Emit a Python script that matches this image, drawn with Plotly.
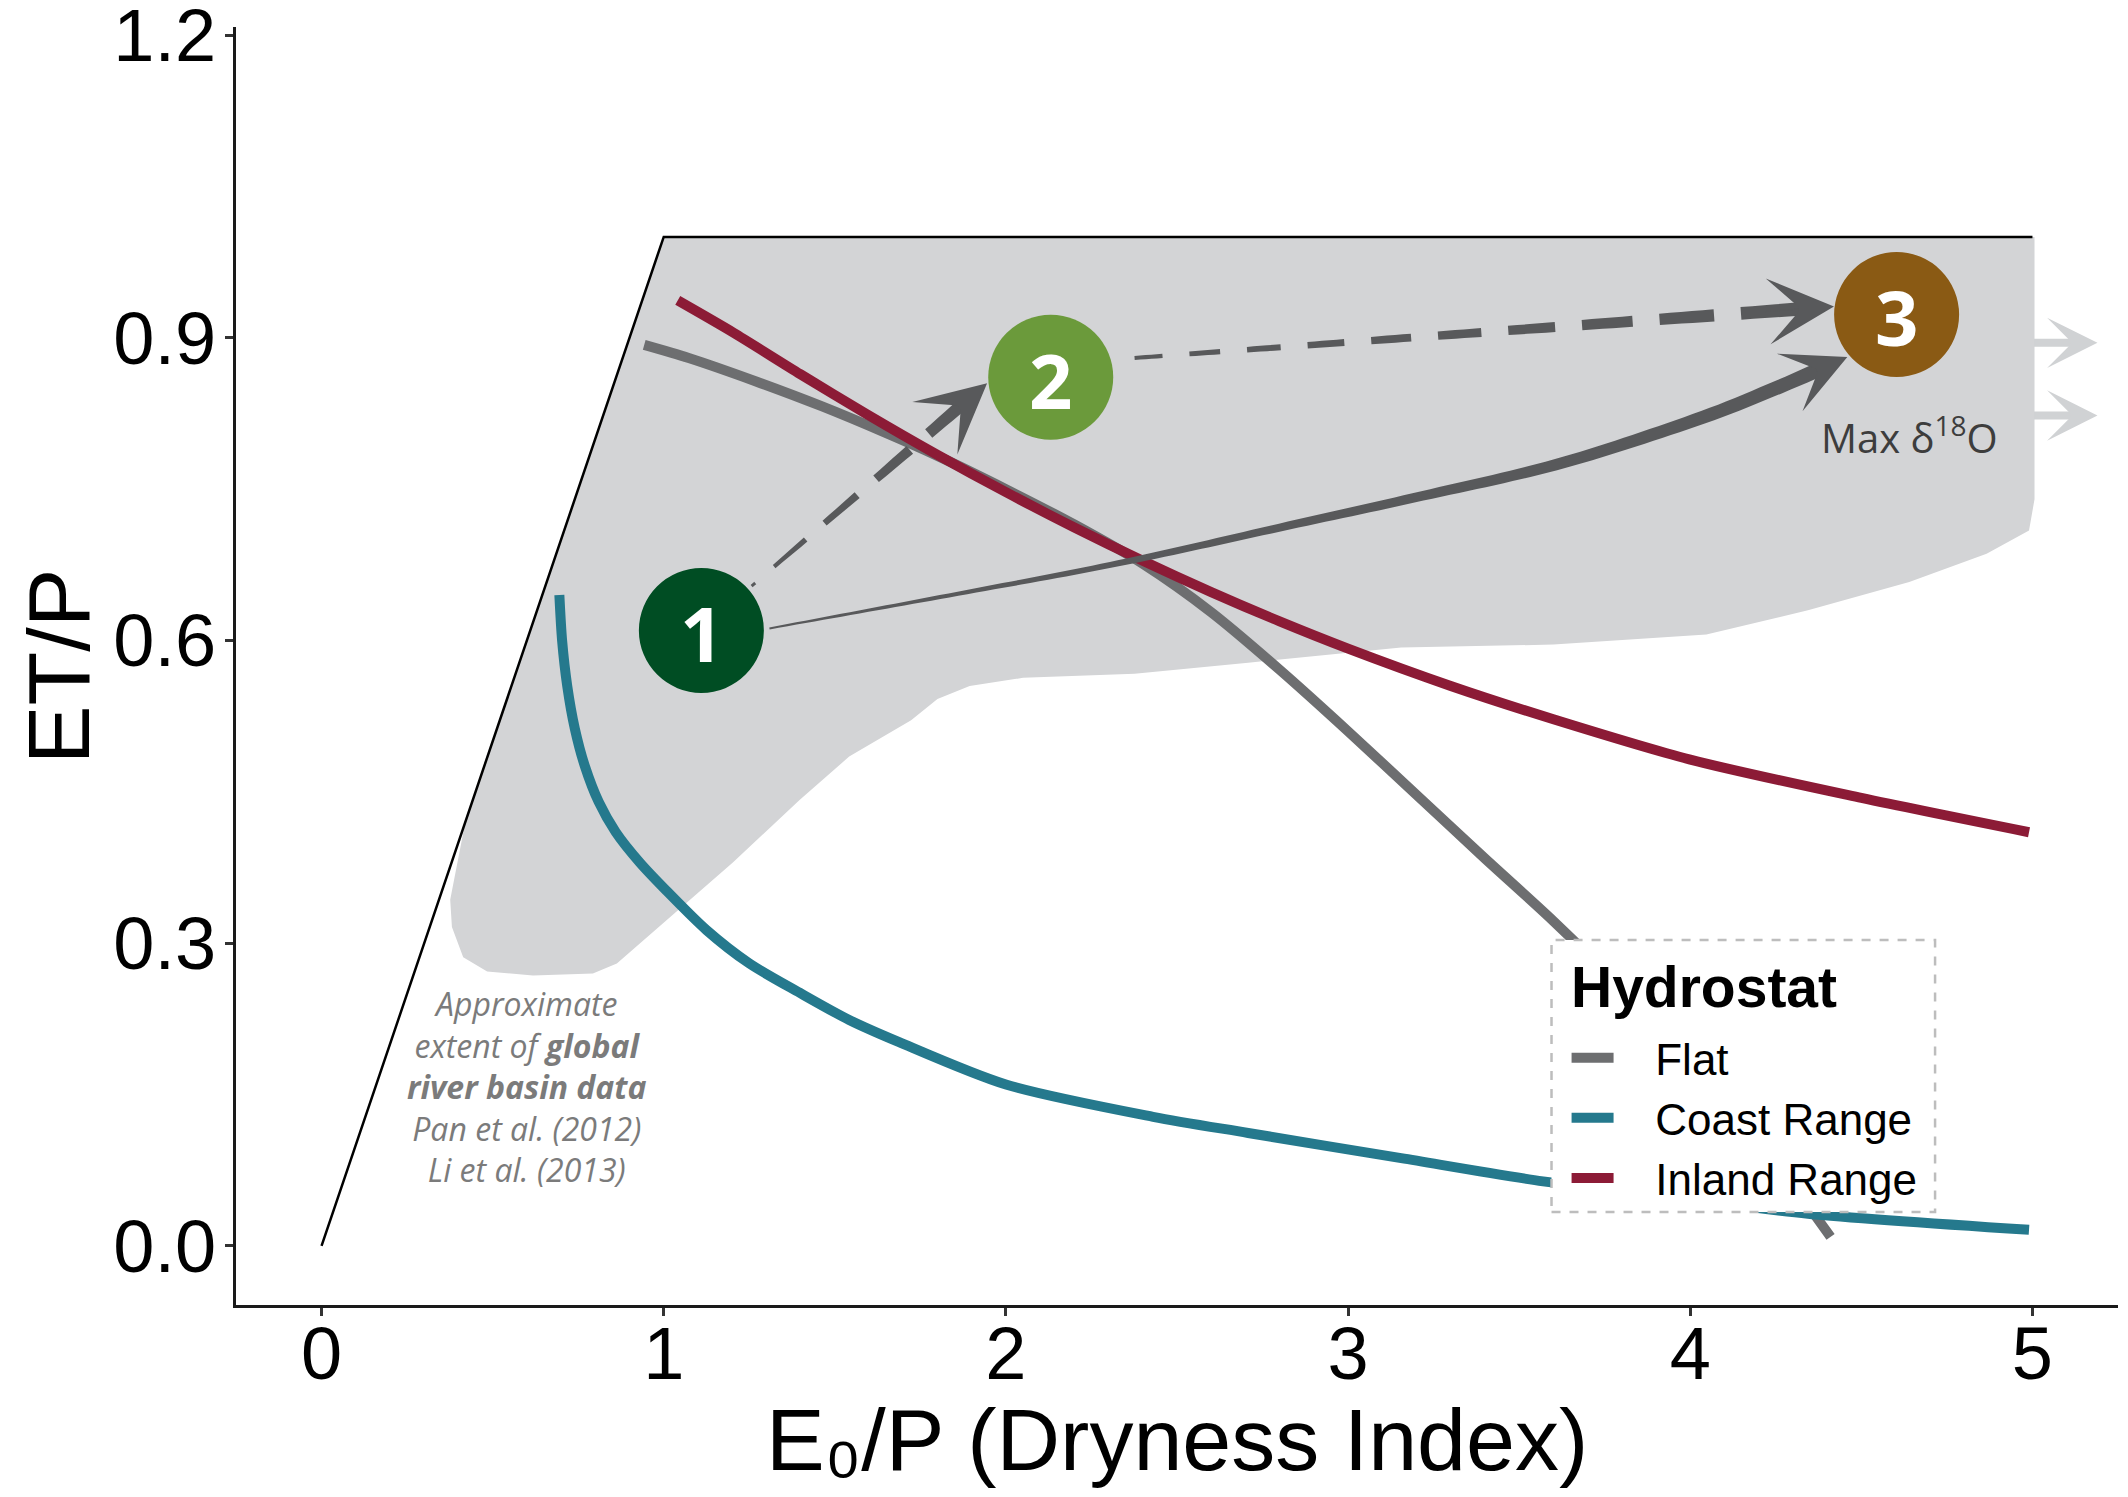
import numpy as np
import plotly.graph_objects as go

# ---------------- data ----------------
budyko_x = [0, 1, 5]
budyko_y = [0, 1, 1]

envelope_x = [1.0, 5.006, 5.006, 4.99, 4.866, 4.64, 4.344, 4.047, 3.6, 3.155, 2.708, 2.376,
              2.05, 1.894, 1.80, 1.723, 1.542, 1.397, 1.202, 1.008, 0.863, 0.793, 0.618,
              0.484, 0.414, 0.381, 0.376, 0.42]
envelope_y = [1.0, 1.0, 0.74, 0.709, 0.686, 0.658, 0.63, 0.606, 0.596, 0.593, 0.578, 0.567,
              0.563, 0.555, 0.542, 0.521, 0.485, 0.442, 0.38, 0.323, 0.28, 0.27, 0.268,
              0.272, 0.286, 0.316, 0.343, 0.42]

flat_x = [0.943, 1.073, 1.268, 1.463, 1.647, 1.80, 2.0, 2.2, 2.4, 2.6, 2.8, 3.0, 3.2, 3.4,
          3.6, 3.8, 4.0, 4.2, 4.344, 4.41]
flat_y = [0.893, 0.880, 0.857, 0.832, 0.806, 0.783, 0.750, 0.715, 0.676, 0.628, 0.571, 0.510,
          0.447, 0.384, 0.322, 0.255, 0.182, 0.105, 0.040, 0.009]

coast_x = [0.695, 0.703, 0.718, 0.74, 0.77, 0.81, 0.86, 0.93, 1.008, 1.125, 1.25, 1.397,
           1.542, 1.688, 2.0, 2.43, 2.708, 3.155, 3.57, 4.0, 4.344, 4.99]
coast_y = [0.645, 0.600, 0.555, 0.513, 0.475, 0.440, 0.410, 0.380, 0.352, 0.313, 0.280, 0.251,
           0.224, 0.202, 0.160, 0.128, 0.112, 0.087, 0.064, 0.046, 0.032, 0.016]

inland_x = [1.041, 1.204, 1.399, 1.595, 1.80, 2.0, 2.2, 2.4, 2.6, 2.8, 3.0, 3.3, 3.6, 4.0,
            4.5, 4.99]
inland_y = [0.937, 0.905, 0.864, 0.824, 0.784, 0.747, 0.712, 0.679, 0.648, 0.619, 0.592,
            0.555, 0.522, 0.482, 0.444, 0.410]

series_names = ["Flat", "Coast Range", "Inland Range"]
series_colors = ["#6d6e70", "#25798d", "#8c1b36"]

stage_x = [1.11, 2.131, 4.603]
stage_y = [0.610, 0.861, 0.923]
stage_labels = ["1", "2", "3"]
stage_colors = ["#004d23", "#6b9a3b", "#8a5a14"]

# arrows between stages
arrow12_x = [1.257, 1.945]
arrow12_y = [0.654, 0.855]
arrow23_x = [2.376, 4.42]
arrow23_y = [0.880, 0.931]
arrow13_x = [1.309, 1.854, 2.335, 2.854, 3.2, 3.615, 4.01, 4.25, 4.459]
arrow13_y = [0.612, 0.646, 0.677, 0.716, 0.742, 0.775, 0.818, 0.850, 0.881]

out_arrow_y = [0.895, 0.823]
out_arrow_x0 = 5.0
out_arrow_x1 = 5.19

x_ticks = [0, 1, 2, 3, 4, 5]
y_ticks = [0.0, 0.3, 0.6, 0.9, 1.2]
y_ticklabels = ["0.0", "0.3", "0.6", "0.9", "1.2"]

# ---------------- layout constants ----------------
W, H = 2120, 1489           # page body adds an 8px margin
ML, MR, MT, MB = 228, 10, 19, 192
X_RANGE = [-0.25, 5.25]
Y_RANGE = [-0.0585, 1.208]
PX_X = (W - ML - MR) / (X_RANGE[1] - X_RANGE[0])
PX_Y = (H - MT - MB) / (Y_RANGE[1] - Y_RANGE[0])

SANS = "Liberation Sans, Arial, sans-serif"
MYRIAD = "Open Sans, Noto Sans, sans-serif"
ARROW_COL = "#58595b"


def dense_path(xs, ys, n=24):
    X = np.asarray(xs, float) * PX_X
    Y = np.asarray(ys, float) * PX_Y
    pts = np.column_stack([X, Y])
    if len(X) == 2:
        t = np.linspace(0, 1, 50)
        dense = pts[0] + (pts[1] - pts[0]) * t[:, None]
    else:
        P = np.vstack([pts[0] * 2 - pts[1], pts, pts[-1] * 2 - pts[-2]])
        out = []
        for i in range(1, len(P) - 2):
            p0, p1, p2, p3 = P[i - 1], P[i], P[i + 1], P[i + 2]
            for t in np.linspace(0, 1, n, endpoint=False):
                t2, t3 = t * t, t * t * t
                out.append(0.5 * ((2 * p1) + (-p0 + p2) * t + (2 * p0 - 5 * p1 + 4 * p2 - p3) * t2
                                  + (-p0 + 3 * p1 - 3 * p2 + p3) * t3))
        out.append(pts[-1])
        dense = np.array(out)
    seg = np.hypot(np.diff(dense[:, 0]), np.diff(dense[:, 1]))
    cum = np.concatenate([[0], np.cumsum(seg)])
    return dense, cum


def ribbon(dense, cum, s0, s1, w0, w1, n=24):
    ss = np.linspace(s0, s1, n)
    X = np.interp(ss, cum, dense[:, 0])
    Y = np.interp(ss, cum, dense[:, 1])
    sa = np.clip(ss - 1.0, 0, cum[-1])
    sb = np.clip(ss + 1.0, 0, cum[-1])
    dX = np.interp(sb, cum, dense[:, 0]) - np.interp(sa, cum, dense[:, 0])
    dY = np.interp(sb, cum, dense[:, 1]) - np.interp(sa, cum, dense[:, 1])
    nrm = np.hypot(dX, dY)
    nx, ny = -dY / nrm, dX / nrm
    hw = np.linspace(w0, w1, n) / 2
    PXs = np.concatenate([X + nx * hw, (X - nx * hw)[::-1]]) / PX_X
    PYs = np.concatenate([Y + ny * hw, (Y - ny * hw)[::-1]]) / PX_Y
    return "M" + " L".join(f"{a:.5f},{b:.5f}" for a, b in zip(PXs, PYs)) + " Z"


def head_dir(dense, cum, back=30):
    s = max(cum[-1] - back, 0)
    xa = np.interp(s, cum, dense[:, 0]); ya = np.interp(s, cum, dense[:, 1])
    dx, dy = dense[-1, 0] - xa, dense[-1, 1] - ya
    n = np.hypot(dx, dy)
    return dx / n, dy / n


shapes = []
annotations = []


def add_head(x, y, ux, uy, scale, color=ARROW_COL):
    head_len = 6 * scale
    back = head_len + 4
    annotations.append(dict(x=x, y=y, xref="x", yref="y", ax=-ux * back, ay=uy * back,
                            text="", showarrow=True, arrowhead=3, arrowwidth=1,
                            arrowsize=scale, arrowcolor=color, standoff=0))


def add_dash(dense, cum, s0, s1, usable, w0, w1):
    wa = w0 + (w1 - w0) * (s0 / usable)
    wb = w0 + (w1 - w0) * (s1 / usable)
    shapes.append(dict(type="path", xref="x", yref="y", layer="above",
                       path=ribbon(dense, cum, s0, s1, wa, wb, n=6),
                       fillcolor=ARROW_COL, line=dict(width=0)))


def dashed_arrow(xs, ys, scale, d0, d1, gap, w0, w1, forward=False):
    dense, cum = dense_path(xs, ys)
    L = cum[-1]
    usable = L - 0.45 * 6 * scale
    if forward:
        s = 0.0
        while s < usable - 8:
            D = d0 + (d1 - d0) * (s / usable)
            e = min(s + D, usable)
            add_dash(dense, cum, s, e, usable, w0, w1)
            s = e + gap
    else:
        s_end = usable
        while s_end > 0:
            D = d0 + (d1 - d0) * (s_end / usable)
            s_start = max(0.0, s_end - D)
            add_dash(dense, cum, s_start, s_end, usable, w0, w1)
            s_end = s_start - gap
    ux, uy = head_dir(dense, cum)
    add_head(xs[-1], ys[-1], ux, uy, scale)


def solid_arrow(xs, ys, scale, w0, w1):
    dense, cum = dense_path(xs, ys)
    L = cum[-1]
    usable = L - 0.45 * 6 * scale
    shapes.append(dict(type="path", xref="x", yref="y", layer="above",
                       path=ribbon(dense, cum, 0, usable, w0, w1, n=120),
                       fillcolor=ARROW_COL, line=dict(width=0)))
    ux, uy = head_dir(dense, cum)
    add_head(xs[-1], ys[-1], ux, uy, scale)


# ---------------- figure ----------------
fig = go.Figure()
fig.add_trace(go.Scatter(x=envelope_x, y=envelope_y, mode="lines", fill="toself",
                         fillcolor="#d3d4d6", line=dict(width=0), showlegend=False,
                         hoverinfo="skip"))
fig.add_trace(go.Scatter(x=budyko_x, y=budyko_y, mode="lines",
                         line=dict(color="black", width=2.5), showlegend=False,
                         hoverinfo="skip"))
NBSP = "\u00a0\u00a0\u00a0"
for name, xs, ys, col in zip(series_names, [flat_x, coast_x, inland_x],
                             [flat_y, coast_y, inland_y], series_colors):
    fig.add_trace(go.Scatter(x=xs, y=ys, mode="lines", name=NBSP + name,
                             line=dict(color=col, width=10, shape="spline", smoothing=0.8)))

# arrows
solid_arrow(arrow13_x, arrow13_y, scale=10.5, w0=2.0, w1=14.5)
dashed_arrow(arrow12_x, arrow12_y, scale=11.5, d0=40, d1=46, gap=25, w0=3.0, w1=12.5)
dashed_arrow(arrow23_x, arrow23_y, scale=11.0, d0=28, d1=62, gap=27, w0=4.0, w1=13.5,
             forward=True)

for yv in out_arrow_y:
    annotations.append(dict(x=out_arrow_x1, y=yv, xref="x", yref="y", ax=out_arrow_x0, ay=yv,
                            axref="x", ayref="y", text="", showarrow=True, arrowhead=3,
                            arrowwidth=8, arrowsize=1.05, arrowcolor="#d0d2d4", standoff=0))

# stage circles
R = 62.5
for cx, cy, lab, col in zip(stage_x, stage_y, stage_labels, stage_colors):
    shapes.append(dict(type="circle", xref="x", yref="y", xsizemode="pixel", ysizemode="pixel",
                       xanchor=cx, yanchor=cy, x0=-R, x1=R, y0=-R, y1=R, fillcolor=col,
                       line=dict(width=0), layer="above"))
    annotations.append(dict(x=cx, y=cy, xref="x", yref="y", text=f"<b>{lab}</b>",
                            showarrow=False, yshift=-2,
                            font=dict(family=MYRIAD, size=76, color="white")))

# legend frame + title
shapes.append(dict(type="rect", xref="paper", yref="paper", x0=0.699, x1=0.9028,
                   y0=0.0728, y1=0.2856, fillcolor="white", layer="above",
                   line=dict(color="#bdbdbd", width=2.5, dash="dash")))
annotations.append(dict(x=0.7085, y=0.2488, xref="paper", yref="paper", xanchor="left",
                        yanchor="middle", showarrow=False, text="<b>Hydrostat</b>",
                        font=dict(family=SANS, size=57, color="black")))

# text annotations
annotations.append(dict(x=0.60, y=0.158, xref="x", yref="y", showarrow=False,
                        text="<i>Approximate<br>extent of <b>global</b><br><b>river basin data</b>"
                             "<br>Pan et al. (2012)<br>Li et al. (2013)</i>",
                        align="center", font=dict(family=MYRIAD, size=32, color="#7b7b7b")))
annotations.append(dict(x=4.64, y=0.803, xref="x", yref="y", showarrow=False,
                        text="Max δ<sup>18</sup>O",
                        font=dict(family=MYRIAD, size=40, color="#3d3d3d")))

# axis titles
annotations.append(dict(x=0.5, y=-0.0649, xref="paper", yref="paper", yanchor="top",
                        showarrow=False, text="E\u2080/P (Dryness Index)",
                        font=dict(family=SANS, size=88, color="black")))
annotations.append(dict(x=-0.0945, y=0.5, xref="paper", yref="paper", xanchor="center",
                        yanchor="middle", textangle=-90, showarrow=False, text="ET/P",
                        font=dict(family=SANS, size=88, color="black")))

fig.update_layout(
    width=W, height=H,
    margin=dict(l=ML, r=MR, t=MT, b=MB, autoexpand=False),
    paper_bgcolor="white", plot_bgcolor="white",
    shapes=shapes, annotations=annotations,
    showlegend=True,
    legend=dict(x=0.707, y=0.1463, xanchor="left", yanchor="middle",
                bgcolor="rgba(0,0,0,0)", borderwidth=0,
                font=dict(family=SANS, size=44, color="black"),
                itemwidth=42, tracegroupgap=0),
    hovermode=False,
)
fig.update_xaxes(range=X_RANGE, tickvals=x_ticks, ticktext=[str(v) for v in x_ticks],
                 showgrid=False, zeroline=False, showline=True, linecolor="#1a1a1a",
                 linewidth=3, ticks="outside", ticklen=8, tickwidth=2.5, tickcolor="#333333",
                 ticklabelstandoff=-26, ticklabeloverflow="allow",
                 tickfont=dict(family=SANS, size=74, color="black"))
fig.update_yaxes(range=Y_RANGE, tickvals=y_ticks, ticktext=y_ticklabels,
                 showgrid=False, zeroline=False, showline=True, linecolor="#1a1a1a",
                 linewidth=3, ticks="outside", ticklen=8, tickwidth=2.5, tickcolor="#333333",
                 ticklabelstandoff=-6, ticklabeloverflow="allow",
                 tickfont=dict(family=SANS, size=74, color="black"))

fig.write_html("out.html")
